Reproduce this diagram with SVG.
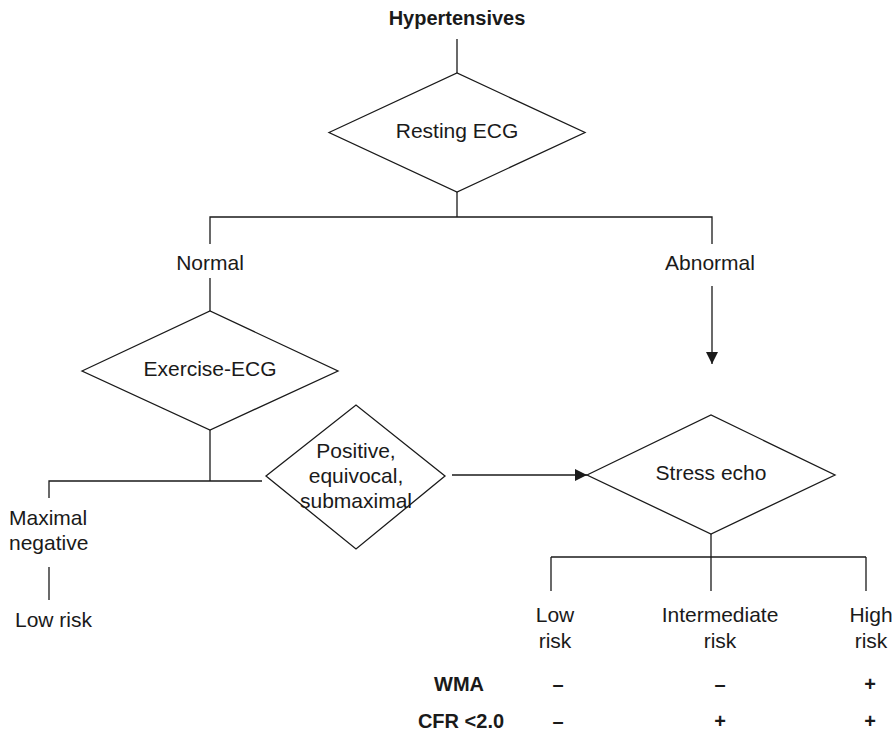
<svg xmlns="http://www.w3.org/2000/svg" width="896" height="735" viewBox="0 0 896 735">
  <style>
    .ln { stroke: #1a1a1a; stroke-width: 1.3; fill: none; }
    .dm { stroke: #1a1a1a; stroke-width: 1.3; fill: #ffffff; }
    text { font-family: "Liberation Sans", Arial, Helvetica, sans-serif; font-size: 21px; fill: #1a1a1a; }
    .b { font-weight: bold; font-size: 20px; }
    .c { text-anchor: middle; }
  </style>
  <defs>
    <marker id="arrow" markerWidth="12" markerHeight="12" refX="12" refY="6" orient="auto" markerUnits="userSpaceOnUse">
      <path d="M0,0 L12,6 L0,12 Z" fill="#1a1a1a"/>
    </marker>
  </defs>

  <!-- connectors -->
  <g id="connectors">
    <line class="ln" x1="457" y1="39" x2="457" y2="73"/>
    <line class="ln" x1="457" y1="192" x2="457" y2="217"/>
    <polyline class="ln" points="210,244 210,217 712,217 712,244"/>
    <line class="ln" x1="210" y1="278" x2="210" y2="311"/>
    <line class="ln" x1="712" y1="286" x2="712" y2="364" marker-end="url(#arrow)"/>
    <line class="ln" x1="210" y1="430" x2="210" y2="481"/>
    <polyline class="ln" points="49,498 49,481 262,481"/>
    <line class="ln" x1="49" y1="567" x2="49" y2="600"/>
    <line class="ln" x1="452" y1="475" x2="587" y2="475" marker-end="url(#arrow)"/>
    <line class="ln" x1="711" y1="534" x2="711" y2="557"/>
    <line class="ln" x1="551" y1="557" x2="866" y2="557"/>
    <line class="ln" x1="551" y1="557" x2="551" y2="591"/>
    <line class="ln" x1="711" y1="557" x2="711" y2="591"/>
    <line class="ln" x1="866" y1="557" x2="866" y2="591"/>
  </g>

  <g id="hypertensives">
    <text class="b c" x="457" y="25">Hypertensives</text>
  </g>

  <g id="resting-ecg">
    <polygon class="dm" points="329,132.5 457,73 585,132.5 457,192"/>
    <text class="c" x="457" y="138">Resting ECG</text>
  </g>

  <g id="normal">
    <text class="c" x="210" y="270">Normal</text>
  </g>

  <g id="abnormal">
    <text class="c" x="710" y="270">Abnormal</text>
  </g>

  <g id="exercise-ecg">
    <polygon class="dm" points="82,371 210,311 338,371 210,430"/>
    <text class="c" x="210" y="376">Exercise-ECG</text>
  </g>

  <g id="maximal-negative">
    <text x="9" y="525">Maximal</text>
    <text x="9" y="550">negative</text>
  </g>

  <g id="low-risk-left">
    <text x="15" y="627">Low risk</text>
  </g>

  <g id="positive">
    <polygon class="dm" points="266,476 356,405 445,476 356,549"/>
    <text class="c" x="356" y="458">Positive,</text>
    <text class="c" x="356" y="483">equivocal,</text>
    <text class="c" x="356" y="508" font-size="20.5">submaximal</text>
  </g>

  <g id="stress-echo">
    <polygon class="dm" points="587,475 711,415 835,475 711,534"/>
    <text class="c" x="711" y="480">Stress echo</text>
  </g>

  <g id="low-risk">
    <text class="c" x="555" y="622">Low</text>
    <text class="c" x="555" y="648">risk</text>
  </g>

  <g id="intermediate-risk">
    <text class="c" x="720" y="622">Intermediate</text>
    <text class="c" x="720" y="648">risk</text>
  </g>

  <g id="high-risk">
    <text class="c" x="871" y="622">High</text>
    <text class="c" x="871" y="648">risk</text>
  </g>

  <g id="table">
    <text class="b c" x="459" y="691">WMA</text>
    <text class="b c" x="558" y="691">–</text>
    <text class="b c" x="720" y="691">–</text>
    <text class="b c" x="870" y="691">+</text>
    <text class="b c" x="461" y="728">CFR &lt;2.0</text>
    <text class="b c" x="558" y="728">–</text>
    <text class="b c" x="720" y="728">+</text>
    <text class="b c" x="870" y="728">+</text>
  </g>
</svg>
